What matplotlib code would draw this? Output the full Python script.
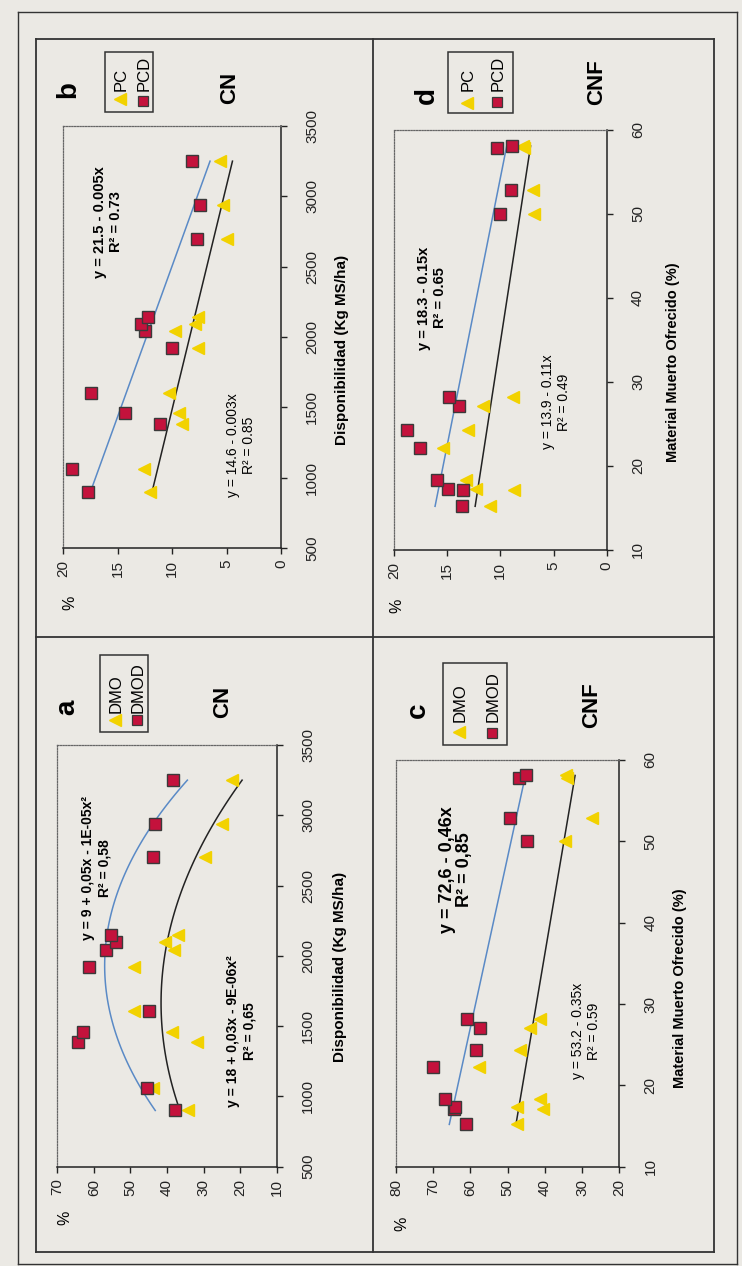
import numpy as np
import matplotlib
matplotlib.use('Agg')
import matplotlib.pyplot as plt
from matplotlib.lines import Line2D
from matplotlib.patches import Rectangle

plt.rcParams['font.family'] = ['Liberation Sans', 'DejaVu Sans']

# ---------------- data ----------------
# panels a & b : x = Disponibilidad (Kg MS/ha)
disponibilidad = [900, 1060, 1385, 1460, 1605, 1920, 2040, 2095, 2145, 2700, 2935, 3250]
a_dmo = [34.2, 43.7, 31.9, 38.7, 48.9, 48.9, 38.1, 40.5, 36.9, 29.6, 25.0, 22.3]
a_dmod = [37.8, 45.5, 64.3, 62.9, 44.9, 61.2, 56.7, 53.9, 55.4, 43.9, 43.3, 38.4]
b_pc = [12.0, 12.6, 9.1, 9.4, 10.3, 7.6, 9.7, 7.9, 7.6, 5.0, 5.3, 5.6]
b_pcd = [17.7, 19.2, 11.1, 14.3, 17.4, 10.0, 12.5, 12.8, 12.2, 7.7, 7.4, 8.2]

# panels c & d : x = Material Muerto Ofrecido (%)
material_muerto = [15.2, 17.1, 17.3, 18.3, 22.2, 24.3, 27.1, 28.2, 50.0, 52.9, 57.8, 58.1]
c_dmo = [47.6, 40.6, 47.6, 41.3, 57.6, 46.7, 44.0, 41.3, 34.6, 27.4, 34.0, 34.2]
c_dmod = [61.2, 64.5, 64.2, 66.9, 70.0, 58.5, 57.4, 60.9, 44.9, 49.4, 46.9, 45.1]
d_pc = [11.0, 8.7, 12.3, 13.2, 15.4, 13.0, 11.6, 8.8, 6.8, 6.9, 7.8, 7.9]
d_pcd = [13.6, 13.5, 14.9, 16.0, 17.6, 18.8, 13.9, 14.8, 10.0, 9.0, 10.3, 8.9]

disp_ticks = [500, 1000, 1500, 2000, 2500, 3000, 3500]
mm_ticks = [10, 20, 30, 40, 50, 60]
a_pct_ticks = [10, 20, 30, 40, 50, 60, 70]
b_pct_ticks = [0, 5, 10, 15, 20]
c_pct_ticks = [20, 30, 40, 50, 60, 70, 80]
d_pct_ticks = [0, 5, 10, 15, 20]

# ---------------- figure ----------------
W, H = 742, 1266
BG = '#ebe9e4'
TRI = '#f2d200'
SQ = '#c4123c'
BLUE = '#5a8ac6'
DARK = '#222222'

fig = plt.figure(figsize=(W / 100, H / 100), dpi=100, facecolor=BG)


def fx(x):
    return x / W


def fy(y):
    return 1 - y / H


def line(x1, y1, x2, y2, lw=1.3, color='#333333'):
    fig.add_artist(Line2D([fx(x1), fx(x2)], [fy(y1), fy(y2)],
                          transform=fig.transFigure, color=color, lw=lw))


def text(x, y, s, size, weight='normal', ha='center', va='center', ls=1.25):
    fig.text(fx(x), fy(y), s, fontsize=size, fontweight=weight, rotation=90,
             ha=ha, va=va, multialignment='center', linespacing=ls,
             transform=fig.transFigure)


# frames
for (x1, y1, x2, y2) in [(18, 12, 737, 12), (18, 1264, 737, 1264),
                         (18, 12, 18, 1264), (737, 12, 737, 1264)]:
    line(x1, y1, x2, y2, lw=1.0)
for (x1, y1, x2, y2) in [(36, 39, 714, 39), (36, 1252, 714, 1252),
                         (36, 39, 36, 1252), (714, 39, 714, 1252),
                         (373, 39, 373, 1252), (36, 637, 714, 637)]:
    line(x1, y1, x2, y2, lw=1.3)


def panel(left, right, top, bottom, pct_lim, x_lim, pct_ticks, x_ticks,
          xs, tri, sq, deg):
    ax = fig.add_axes([fx(left), fy(bottom), (right - left) / W, (bottom - top) / H])
    ax.set_facecolor('none')
    ax.set_xlim(pct_lim[1], pct_lim[0])
    ax.set_ylim(*x_lim)
    ax.set_xticks(pct_ticks)
    ax.set_yticks(x_ticks)
    ax.yaxis.tick_right()
    ax.tick_params(axis='x', direction='out', length=4, width=1, pad=4.5,
                   labelrotation=90, labelsize=11, colors=DARK)
    ax.tick_params(axis='y', direction='out', length=4, width=1, pad=13.5,
                   labelrotation=90, labelsize=11, colors=DARK)
    for lab in ax.get_yticklabels():
        lab.set_va('center')
    for s in ['left', 'top']:
        ax.spines[s].set_linestyle((0, (1, 1.2)))
        ax.spines[s].set_color('#666666')
        ax.spines[s].set_linewidth(0.9)
    for s in ['right', 'bottom']:
        ax.spines[s].set_color(DARK)
        ax.spines[s].set_linewidth(1.1)

    xs_arr = np.array(xs, dtype=float)
    xx = np.linspace(xs_arr.min(), xs_arr.max(), 120)
    c_sq = np.polyfit(xs_arr, np.array(sq), deg)
    c_tri = np.polyfit(xs_arr, np.array(tri), deg)
    ax.plot(np.polyval(c_sq, xx), xx, color=BLUE, lw=1.1, zorder=2)
    ax.plot(np.polyval(c_tri, xx), xx, color=DARK, lw=1.1, zorder=2)
    ax.plot(tri, xs, linestyle='none', marker='<', ms=9, color=TRI,
            mec=TRI, zorder=3, clip_on=False)
    ax.plot(sq, xs, linestyle='none', marker='s', ms=8, mfc=SQ,
            mec='#3a3a3a', mew=1.0, zorder=4, clip_on=False)
    return ax


# panel b (top-left in the rotated page)
panel(63, 281, 126, 548, (0, 20), (500, 3500), b_pct_ticks, disp_ticks,
      disponibilidad, b_pc, b_pcd, 1)
# panel a
panel(57.3, 276.7, 745, 1166.7, (10, 70), (500, 3500), a_pct_ticks, disp_ticks,
      disponibilidad, a_dmo, a_dmod, 2)
# panel d
panel(394, 606.7, 130, 550, (0, 20), (10, 60), d_pct_ticks, mm_ticks,
      material_muerto, d_pc, d_pcd, 1)
# panel c
panel(396, 619.3, 760, 1166.7, (20, 80), (10, 60), c_pct_ticks, mm_ticks,
      material_muerto, c_dmo, c_dmod, 1)


# legends
def legend(box, tri_pos, sq_pos, labels, text_y):
    x1, y1, x2, y2 = box
    fig.add_artist(Rectangle((fx(x1), fy(y2)), (x2 - x1) / W, (y2 - y1) / H,
                             transform=fig.transFigure, fill=False,
                             edgecolor='#333333', lw=1.1))
    fig.add_artist(Line2D([fx(tri_pos[0])], [fy(tri_pos[1])], marker='<', ms=9,
                          color=TRI, mec=TRI, linestyle='none',
                          transform=fig.transFigure))
    fig.add_artist(Line2D([fx(sq_pos[0])], [fy(sq_pos[1])], marker='s', ms=7.5,
                          mfc=SQ, mec='#3a3a3a', mew=0.9, linestyle='none',
                          transform=fig.transFigure))
    text(tri_pos[0] + 1, text_y, labels[0], 12, va='bottom')
    text(sq_pos[0] + 1, text_y, labels[1], 12, va='bottom')


legend((105, 52, 153, 112), (120, 99), (143, 101), ['PC', 'PCD'], 91)
legend((100, 655, 148, 732), (115, 720), (137, 720), ['DMO', 'DMOD'], 713)
legend((443, 663, 507, 745), (459, 732), (492, 733), ['DMO', 'DMOD'], 722)
legend((448, 52, 513, 113), (467, 103), (497, 102), ['PC', 'PCD'], 91)

# panel letters and titles
text(68, 90, 'b', 20, 'bold')
text(67, 707, 'a', 20, 'bold')
text(418, 710, 'c', 20, 'bold')
text(427, 95, 'd', 20, 'bold')
text(230, 88, 'CN', 16, 'bold')
text(223, 702, 'CN', 16, 'bold')
text(592, 705, 'CNF', 16, 'bold')
text(597, 82, 'CNF', 16, 'bold')

# % labels
text(70, 603, '%', 11.5)
text(65, 1218, '%', 11.5)
text(397, 606, '%', 11.5)
text(402, 1224, '%', 11.5)

# axis titles
text(342, 350, 'Disponibilidad (Kg MS/ha)', 11, 'bold')
text(340, 967, 'Disponibilidad (Kg MS/ha)', 11, 'bold')
text(673, 362, 'Material Muerto Ofrecido (%)', 10.5, 'bold')
text(680, 988, 'Material Muerto Ofrecido (%)', 10.5, 'bold')

# equations
text(108, 222, 'y = 21.5 - 0.005x\nR² = 0.73', 10.5, 'bold')
text(241, 445, 'y = 14.6 - 0.003x\nR² = 0.85', 10)
text(96, 868, 'y = 9 + 0,05x - 1E-05x²\nR² = 0,58', 10, 'bold')
text(241, 1031, 'y = 18 + 0,03x - 9E-06x²\nR² = 0,65', 10, 'bold')
text(456, 870, 'y = 72,6 - 0,46x\nR² = 0,85', 13, 'bold', ls=1.05)
text(586, 1031, 'y = 53.2 - 0.35x\nR² = 0.59', 10)
text(432, 298, 'y = 18.3 - 0.15x\nR² = 0.65', 10.5, 'bold')
text(556, 402, 'y = 13.9 - 0.11x\nR² = 0.49', 10)

fig.savefig('out.png', dpi=100, facecolor=BG)
